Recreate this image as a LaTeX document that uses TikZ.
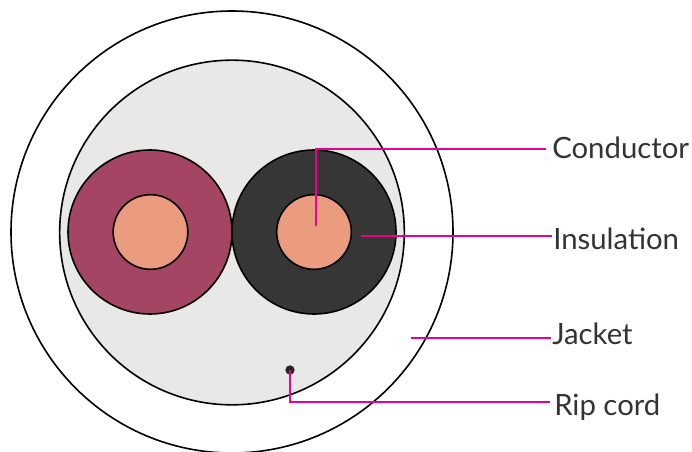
\documentclass[tikz,border=0pt]{standalone}
\usepackage{fontspec}
\setmainfont{Lato}
\usepackage{xcolor}
\usetikzlibrary{calc, positioning}
\definecolor{CopperTone}{HTML}{EC9C7E}
\definecolor{WineRed}{HTML}{A54564}
\definecolor{CharcoalGray}{HTML}{363636}
\definecolor{FillerGray}{HTML}{E8E8E6}
\definecolor{LeaderPink}{HTML}{EC008C}
\definecolor{LabelGray}{HTML}{333333}

\begin{document}
\begin{tikzpicture}[x=0.75pt, y=-0.75pt,
        disc/.style={draw=black, circle, line width=1.2pt, inner sep=0pt},
        leader/.style={draw=LeaderPink, line width=0.85pt},
        tag/.style={font=\fontsize{22}{26}\selectfont, text=LabelGray, anchor=base west, inner sep=0pt}]
        \useasboundingbox (0,0) rectangle (692,452);

        \node[disc, fill=white, minimum size=331.5pt] (jacket) at (232,232) {};
        \node[disc, fill=FillerGray, minimum size=258.5pt] (filler) at (232,232.5) {};
        \node[disc, fill=WineRed, minimum size=123pt] (insleft) at (150,232) {};
        \node[disc, fill=CharcoalGray, minimum size=123pt] (insright) at (314,232) {};
        \node[disc, fill=CopperTone, minimum size=56pt] (condleft) at (150.5,232) {};
        \node[disc, fill=CopperTone, minimum size=56pt] (condright) at (314,232) {};
        \node[circle, fill=black!85, minimum size=7pt, inner sep=0pt] (rip) at (290,370) {};

        \node[tag] (lblcond) at (552,159) {Conductor};
        \node[tag] (lblins)  at (553,249) {Insulation};
        \node[tag] (lbljack) at (552,344) {Jacket};
        \node[tag] (lblrip)  at (554,415) {Rip cord};

        \coordinate (condend) at (316,226);
        \coordinate (condbend) at (316,149);
        \coordinate (insend) at (361,236);
        \coordinate (jackend) at (411,338);
        \coordinate (ripbend) at (290,402);

        \draw[leader] (condend) -- (condbend) -- ([xshift=-4.5pt]lblcond.west |- condbend);
        \draw[leader] (insend) -- ([xshift=-0.75pt]lblins.west |- insend);
        \draw[leader] (jackend) -- ([xshift=-0.75pt]lbljack.west |- jackend);
        \draw[leader] (rip.center) -- (ripbend) -- ([xshift=-3pt]lblrip.west |- ripbend);
\end{tikzpicture}
\end{document}
